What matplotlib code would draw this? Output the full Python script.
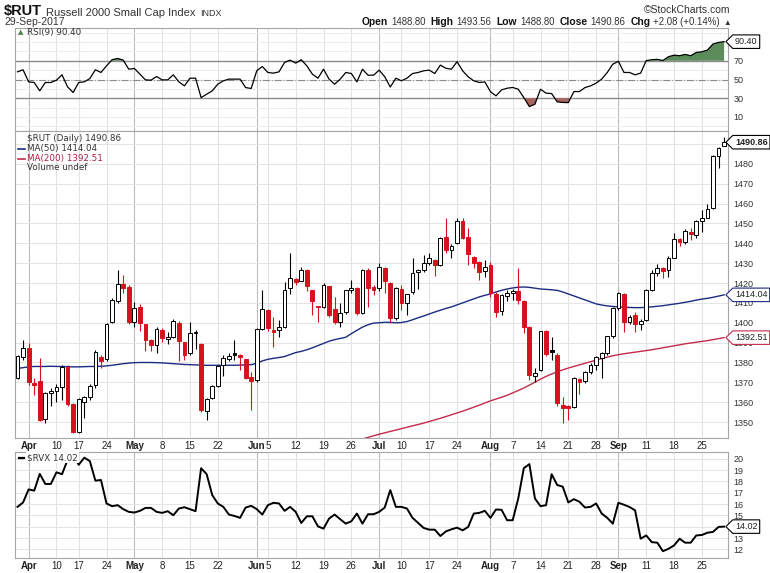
import numpy as np
import pandas as pd
import matplotlib
matplotlib.use("Agg")
import matplotlib.pyplot as plt
from matplotlib.path import Path
from matplotlib.transforms import blended_transform_factory

plt.rcParams['font.family'] = ['Liberation Sans Narrow', 'Liberation Sans', 'DejaVu Sans']

# trading days on the chart, 30-Mar-2017 .. 29-Sep-2017 (market holidays dropped)
holidays = pd.to_datetime(['2017-04-14', '2017-05-29', '2017-07-04', '2017-09-04'])
days = pd.bdate_range('2017-03-30', '2017-09-29')
days = days[~days.isin(holidays)]

# $RUT daily candles
opens = [1372.4, 1382.6, 1387.5, 1369.6, 1370.7, 1351.5, 1364.5, 1365.5, 1367.5, 1377.6,
         1359.2, 1344.8, 1360.0, 1362.8, 1368.5, 1382.6, 1381.6, 1400.2, 1410.9, 1419.7,
         1418.0, 1400.4, 1408.0, 1399.2, 1391.2, 1388.7, 1396.3, 1392.0, 1393.0, 1400.0,
         1390.5, 1384.7, 1395.0, 1389.2, 1355.4, 1362.0, 1368.0, 1378.8, 1382.0, 1384.8,
         1384.0, 1381.8, 1372.9, 1371.0, 1397.0, 1406.5, 1396.3, 1396.4, 1398.0, 1417.3,
         1422.0, 1421.0, 1426.3, 1416.5, 1408.4, 1408.0, 1418.5, 1407.0, 1400.5, 1405.6,
         1416.6, 1417.3, 1405.0, 1426.6, 1417.8, 1417.3, 1427.4, 1420.2, 1402.3, 1416.8,
         1409.8, 1415.6, 1425.7, 1426.5, 1430.0, 1431.8, 1429.0, 1443.3, 1436.6, 1440.0,
         1451.4, 1443.0, 1433.2, 1430.7, 1425.8, 1429.0, 1414.3, 1406.1, 1413.7, 1414.8,
         1416.0, 1411.1, 1398.1, 1373.0, 1376.3, 1395.6, 1386.3, 1383.8, 1358.5, 1358.0,
         1357.8, 1371.5, 1370.9, 1375.1, 1378.8, 1382.5, 1384.7, 1393.1, 1407.3, 1414.3,
         1400.6, 1403.9, 1399.2, 1401.4, 1416.5, 1424.9, 1427.4, 1426.6, 1432.8, 1441.9,
         1440.8, 1445.7, 1444.2, 1451.2, 1452.9, 1457.6, 1484.0, 1488.8]
highs = [1384.0, 1391.4, 1389.7, 1372.0, 1382.5, 1365.0, 1367.0, 1369.0, 1378.5, 1378.5,
         1359.5, 1362.0, 1363.0, 1369.0, 1386.2, 1383.8, 1400.0, 1412.5, 1426.5, 1424.0,
         1419.0, 1410.5, 1409.5, 1399.5, 1392.0, 1398.0, 1397.5, 1395.5, 1402.0, 1401.0,
         1390.5, 1400.5, 1396.4, 1390.0, 1362.0, 1368.5, 1378.5, 1383.8, 1385.0, 1391.3,
         1384.5, 1382.0, 1375.0, 1397.5, 1416.5, 1407.0, 1403.0, 1401.4, 1420.5, 1435.0,
         1422.5, 1428.0, 1427.0, 1416.5, 1408.5, 1420.0, 1418.5, 1413.0, 1410.0, 1416.5,
         1421.7, 1418.0, 1427.0, 1427.5, 1419.0, 1430.2, 1428.0, 1420.5, 1417.8, 1419.0,
         1414.5, 1432.4, 1427.0, 1434.0, 1435.3, 1432.0, 1443.0, 1452.5, 1439.5, 1452.5,
         1452.5, 1447.5, 1433.5, 1431.0, 1431.6, 1430.5, 1415.5, 1414.5, 1416.5, 1417.0,
         1427.4, 1411.5, 1398.5, 1377.0, 1396.0, 1396.3, 1393.0, 1384.7, 1362.5, 1358.5,
         1372.5, 1372.0, 1375.5, 1379.5, 1383.5, 1385.5, 1393.5, 1408.0, 1415.6, 1415.2,
         1404.0, 1405.5, 1402.0, 1416.8, 1426.5, 1429.5, 1428.0, 1433.5, 1445.0, 1442.5,
         1447.0, 1447.5, 1451.5, 1456.7, 1460.0, 1484.5, 1488.3, 1493.56]
lows = [1371.5, 1381.3, 1368.5, 1363.7, 1350.5, 1349.5, 1358.0, 1360.0, 1361.0, 1358.0,
        1344.5, 1344.5, 1352.0, 1361.0, 1367.0, 1377.0, 1381.0, 1399.8, 1410.0, 1414.8,
        1399.5, 1398.0, 1396.0, 1386.0, 1386.0, 1385.0, 1390.5, 1389.5, 1392.5, 1380.5,
        1381.5, 1383.8, 1387.0, 1355.0, 1351.2, 1361.5, 1367.5, 1373.0, 1380.5, 1381.3,
        1376.0, 1371.5, 1356.1, 1370.0, 1396.5, 1396.0, 1388.0, 1393.0, 1397.5, 1414.5,
        1419.0, 1421.0, 1416.0, 1403.9, 1400.6, 1407.5, 1403.0, 1399.5, 1398.0, 1404.5,
        1415.0, 1404.0, 1404.5, 1408.0, 1414.0, 1416.0, 1414.8, 1400.0, 1401.5, 1406.5,
        1404.0, 1414.5, 1417.0, 1425.5, 1429.0, 1423.5, 1428.5, 1435.0, 1432.4, 1439.5,
        1442.0, 1429.0, 1427.4, 1421.6, 1422.9, 1413.0, 1403.0, 1404.0, 1411.0, 1411.5,
        1409.5, 1395.0, 1371.0, 1370.4, 1375.5, 1383.5, 1381.5, 1357.9, 1349.5, 1351.0,
        1357.0, 1364.0, 1369.5, 1374.0, 1376.0, 1372.1, 1384.0, 1392.5, 1406.5, 1395.5,
        1399.5, 1395.2, 1396.5, 1401.0, 1416.0, 1423.5, 1422.5, 1423.0, 1432.4, 1438.5,
        1439.5, 1441.5, 1442.5, 1445.9, 1452.5, 1457.0, 1477.7, 1488.8]
closes = [1383.3, 1387.2, 1370.1, 1368.6, 1351.2, 1364.5, 1365.5, 1367.5, 1377.6, 1359.2,
          1344.8, 1361.5, 1362.8, 1368.3, 1385.5, 1380.8, 1399.4, 1411.5, 1419.7, 1417.5,
          1400.4, 1407.4, 1400.0, 1391.2, 1388.7, 1397.1, 1392.2, 1392.8, 1401.0, 1391.0,
          1383.8, 1395.0, 1395.5, 1356.2, 1361.6, 1368.3, 1378.3, 1382.4, 1383.5, 1383.9,
          1383.0, 1372.1, 1370.8, 1397.0, 1406.7, 1397.2, 1395.5, 1398.0, 1416.5, 1422.7,
          1420.7, 1426.3, 1418.5, 1411.0, 1408.0, 1419.0, 1404.0, 1400.2, 1405.0, 1416.5,
          1417.3, 1404.8, 1426.6, 1417.3, 1416.5, 1427.9, 1421.2, 1402.3, 1417.3, 1409.8,
          1414.3, 1425.1, 1426.6, 1429.9, 1432.4, 1429.0, 1442.4, 1436.6, 1438.8, 1451.4,
          1442.5, 1434.6, 1429.9, 1425.7, 1428.0, 1414.8, 1405.6, 1414.0, 1415.2, 1416.0,
          1411.5, 1398.1, 1373.8, 1374.9, 1395.6, 1384.5, 1385.3, 1359.5, 1357.3, 1357.0,
          1372.1, 1370.4, 1375.1, 1378.8, 1383.0, 1384.7, 1393.1, 1407.3, 1414.8, 1400.6,
          1403.1, 1399.2, 1400.9, 1416.5, 1424.9, 1427.7, 1426.2, 1432.8, 1442.1, 1440.8,
          1446.1, 1444.6, 1451.2, 1452.9, 1457.2, 1483.9, 1488.1, 1490.86]

# moving averages as drawn
ma50 = [1377.0, 1377.4, 1377.8, 1378.0, 1378.0, 1378.0, 1378.1, 1378.0, 1378.0, 1377.9,
        1377.8, 1377.8, 1377.9, 1378.0, 1378.0, 1378.1, 1378.3, 1378.6, 1379.0, 1379.4,
        1379.7, 1379.9, 1380.0, 1380.0, 1380.0, 1379.9, 1379.8, 1379.6, 1379.4, 1379.2,
        1379.0, 1378.9, 1378.8, 1378.7, 1378.6, 1378.6, 1378.6, 1378.6, 1378.6, 1378.6,
        1378.7, 1378.8, 1378.9, 1379.6, 1380.8, 1381.6, 1382.1, 1382.5, 1383.0, 1384.0,
        1385.0, 1385.6, 1386.4, 1387.4, 1388.5, 1389.6, 1390.7, 1391.5, 1392.1, 1392.7,
        1394.5, 1396.2, 1397.8, 1399.0, 1399.8, 1400.0, 1400.2, 1400.2, 1400.0, 1400.1,
        1400.6, 1401.5, 1402.5, 1403.4, 1404.4, 1405.4, 1406.3, 1407.2, 1408.0, 1409.0,
        1410.0, 1411.0, 1412.0, 1413.0, 1413.8, 1414.5, 1415.5, 1416.3, 1417.0, 1417.5,
        1417.9, 1418.0, 1417.8, 1417.4, 1417.0, 1416.8, 1416.6, 1416.3, 1415.5, 1414.5,
        1413.5, 1412.5, 1411.5, 1410.5, 1409.5, 1408.9, 1408.5, 1408.2, 1408.0, 1407.8,
        1407.7, 1407.6, 1407.6, 1407.8, 1408.0, 1408.3, 1408.6, 1409.0, 1409.4, 1409.8,
        1410.3, 1410.8, 1411.4, 1411.9, 1412.3, 1412.8, 1413.4, 1414.04]
ma200_first_day = 60   # MA(200) only shows up inside the price window from early July
ma200 = [1340.0, 1340.7, 1341.5, 1342.3, 1343.1, 1343.9, 1344.6, 1345.3, 1346.0, 1346.7,
         1347.4, 1348.1, 1348.8, 1349.5, 1350.3, 1351.1, 1351.9, 1352.8, 1353.7, 1354.6,
         1355.5, 1356.5, 1357.5, 1358.5, 1359.6, 1360.7, 1361.6, 1362.5, 1363.5, 1364.7,
         1365.9, 1367.2, 1368.6, 1370.1, 1371.6, 1373.0, 1374.2, 1375.3, 1376.3, 1377.2,
         1378.0, 1378.8, 1379.6, 1380.4, 1381.2, 1382.0, 1382.7, 1383.4, 1383.9, 1384.4,
         1384.8, 1385.2, 1385.6, 1386.0, 1386.4, 1386.9, 1387.4, 1387.9, 1388.4, 1388.9,
         1389.4, 1389.8, 1390.2, 1390.6, 1391.0, 1391.5, 1392.0, 1392.51]

rsi9 = [58.2, 60.4, 47.5, 46.8, 37.9, 46.8, 46.8, 49.3, 55.0, 42.1,
        36.1, 46.8, 47.5, 51.0, 60.4, 57.5, 64.6, 71.1, 72.5, 70.7,
        61.0, 61.8, 55.7, 49.6, 49.3, 53.2, 49.6, 49.6, 55.0, 47.5,
        43.2, 51.4, 51.4, 30.7, 34.3, 37.9, 45.0, 48.6, 50.4, 50.4,
        50.4, 41.4, 40.4, 59.3, 63.9, 57.5, 56.8, 58.2, 68.2, 70.7,
        67.5, 71.1, 64.6, 55.7, 51.4, 61.0, 50.4, 45.0, 50.4, 57.5,
        56.4, 47.5, 61.0, 54.6, 54.6, 60.0, 53.0, 42.0, 51.4, 48.6,
        51.4, 56.4, 57.5, 59.3, 60.0, 56.4, 65.4, 62.0, 61.0, 69.0,
        59.3, 52.9, 48.6, 46.8, 47.5, 37.0, 32.5, 38.9, 40.7, 41.5,
        39.6, 30.7, 21.1, 23.6, 39.6, 35.4, 35.0, 26.1, 25.5, 25.3,
        37.1, 37.1, 41.4, 43.2, 46.1, 50.4, 57.5, 66.4, 69.5, 57.5,
        57.5, 55.0, 56.8, 70.2, 71.1, 71.5, 70.3, 74.3, 76.0, 75.4,
        76.8, 75.4, 78.9, 79.6, 81.4, 87.9, 89.6, 90.4]

rvx = [15.76, 16.15, 17.30, 17.19, 18.67, 17.78, 17.78, 18.81, 18.64, 19.90,
       20.40, 19.47, 20.10, 19.80, 18.07, 18.13, 16.06, 15.82, 15.91, 15.56,
       15.32, 15.26, 15.41, 15.67, 15.67, 15.32, 15.23, 15.38, 15.02, 15.61,
       15.73, 15.56, 15.38, 19.17, 18.64, 16.80, 16.06, 15.76, 15.08, 14.96,
       14.79, 15.70, 15.85, 15.56, 15.08, 15.91, 16.12, 16.06, 15.41, 15.76,
       15.32, 14.34, 14.93, 14.93, 14.04, 13.84, 14.73, 15.08, 14.67, 14.28,
       14.49, 15.17, 14.28, 15.11, 15.11, 15.32, 15.70, 17.24, 15.76, 15.76,
       15.61, 14.79, 14.34, 13.90, 13.75, 13.75, 13.19, 13.60, 13.78, 13.93,
       13.69, 13.99, 15.17, 15.23, 15.41, 14.79, 15.53, 15.50, 14.58, 14.58,
       16.50, 19.17, 19.53, 16.50, 15.82, 15.91, 18.64, 17.69, 17.54, 16.15,
       16.44, 16.21, 15.70, 15.76, 16.06, 15.17, 14.79, 14.28, 16.12, 15.95,
       15.75, 15.45, 12.95, 13.24, 12.65, 12.60, 11.85, 12.06, 12.36, 12.95,
       12.60, 12.60, 13.24, 13.28, 13.48, 13.55, 13.99, 14.02]

rsi_ticks = [10, 30, 50, 70]
price_ticks = [1350, 1360, 1370, 1380, 1390, 1400, 1410, 1420, 1430, 1440, 1450, 1460, 1470, 1480]
rvx_ticks = [12, 13, 15, 16, 17, 18, 19, 20]      # 14 sits under the last-value tag
rvx_grid = [12, 13, 14, 15, 16, 17, 18, 19, 20]

W, H = 770, 573
fig = plt.figure(figsize=(W / 100, H / 100), dpi=100)

def fx(px):
    return px / W

def fy(py):
    return 1 - py / H

def panel(top, bottom):
    return fig.add_axes([fx(15), fy(bottom), (728 - 15) / W, (bottom - top) / H])

ax_rsi = panel(28, 131)
ax = panel(131, 438)
ax_vx = panel(452, 558)

x = np.arange(len(days))

# month lines / weekly lines (stockcharts drops a week line that crowds a month line)
month_pos = [i for i in range(1, len(days)) if days[i].month != days[i - 1].month]
week_pos = [i for i in range(1, len(days))
            if days[i].weekday() < days[i - 1].weekday()
            and not any(m - 2 <= i <= m + 1 for m in month_pos)]
ticks = sorted(month_pos + week_pos)
tick_labels = [days[i].strftime('%b') if i in month_pos else str(days[i].day) for i in ticks]

for a in (ax_rsi, ax, ax_vx):
    a.set_xlim(-0.45, len(days) - 0.3)
    for i in week_pos:
        a.axvline(i, color='#e3e3e3', lw=0.8, zorder=0)
    for i in month_pos:
        a.axvline(i, color='#bdbdbd', lw=0.8, zorder=0)
    a.yaxis.tick_right()
    a.tick_params(length=0, labelsize=6.5, pad=4, colors='#333333')
    a.set_xticks(ticks)
    a.set_xticklabels(tick_labels)
    for s in a.spines.values():
        s.set_color('#a5a5a5')
        s.set_linewidth(0.8)
ax_rsi.tick_params(labelbottom=False)
for a in (ax, ax_vx):
    a.tick_params(axis='x', pad=2, colors='#222222', labelsize=7)
    for lbl, i in zip(a.get_xticklabels(), ticks):
        if i in month_pos:
            lbl.set_fontweight('bold')

# ---- RSI panel
ax_rsi.set_ylim(-5, 105)
ax_rsi.set_yticks(rsi_ticks)
for v in range(0, 101, 10):
    ax_rsi.axhline(v, color='#ececec', lw=0.7, zorder=0)
ax_rsi.axhline(70, color='#8a8a8a', lw=1.0, zorder=1)
ax_rsi.axhline(30, color='#8a8a8a', lw=1.0, zorder=1)
ax_rsi.axhline(50, color='#8a8a8a', lw=0.8, ls='-.', zorder=1)
r = np.array(rsi9)
ax_rsi.fill_between(x, r, 70, where=r >= 70, interpolate=True, color='#5d8c5c', lw=0, zorder=2)
ax_rsi.fill_between(x, r, 30, where=r <= 30, interpolate=True, color='#a86561', lw=0, zorder=2)
ax_rsi.plot(x, r, color='black', lw=0.9, zorder=3)

# ---- price panel
ax.set_ylim(1342, 1496.5)
ax.set_yticks(price_ticks)
for v in range(1340, 1500, 10):
    ax.axhline(v, color='#e4e4e4', lw=0.7, zorder=0)
o, h, l, c = map(np.array, (opens, highs, lows, closes))
prev = np.r_[c[0], c[:-1]]
edge = np.where(c < prev, '#d5131f', '#000000')
face = np.where(c >= o, 'white', edge)
ax.plot(x, ma50, color='#1d2a82', lw=1.0, zorder=2)
ax.plot(np.arange(ma200_first_day, ma200_first_day + len(ma200)), ma200, color='#c42a4c', lw=1.0, zorder=2)
ax.vlines(x, l, h, colors=edge, lw=0.8, zorder=3)
ax.bar(x, np.maximum(np.abs(c - o), 0.3), bottom=np.minimum(o, c), width=0.68,
       color=face, edgecolor=edge, linewidth=0.7, zorder=4)

# ---- RVX panel
ax_vx.set_ylim(11.25, 20.6)
ax_vx.set_yticks(rvx_ticks)
for v in rvx_grid:
    ax_vx.axhline(v, color='#e4e4e4', lw=0.7, zorder=0)
ax_vx.plot(x, rvx, color='black', lw=1.4, zorder=3)

# ---- last-value tags on the right edge
def price_tag(x0, y0, width, height, mutation_size):
    pad = 0.25 * mutation_size
    x0, y0 = x0 - pad, y0 - pad
    x1, y1 = x0 + width + 2 * pad, y0 + height + 2 * pad
    tip = (y1 - y0) / 2
    return Path([(x0, y0), (x1, y0), (x1, y1), (x0, y1), (x0 - tip, (y0 + y1) / 2), (x0, y0)], closed=True)

def tag(a, y, s, ec='black', weight='normal'):
    a.annotate(s, xy=(1, y), xycoords=blended_transform_factory(a.transAxes, a.transData),
               xytext=(5, 0), textcoords='offset points', ha='left', va='center',
               fontsize=6.5, fontweight=weight, color='#222222', annotation_clip=False, zorder=10,
               bbox=dict(boxstyle=price_tag, fc='white', ec=ec, lw=0.8))

tag(ax_rsi, rsi9[-1], '%.2f' % rsi9[-1])
tag(ax, closes[-1], '%.2f' % closes[-1], weight='bold')
tag(ax, ma50[-1], '%.2f' % ma50[-1], ec='#1d2a82')
tag(ax, ma200[-1], '%.2f' % ma200[-1], ec='#c42a4c')
tag(ax_vx, rvx[-1], '%.2f' % rvx[-1])

# ---- legends inside the panels
leg = dict(family='DejaVu Sans', fontsize=6.3, color='#333333', va='center')
fig.text(fx(18), fy(32), '\u25b2', family='DejaVu Sans', fontsize=5, color='#4f7f4f', va='center')
fig.text(fx(27), fy(32), 'RSI(9) %.2f' % rsi9[-1], **leg)
fig.text(fx(27), fy(138.5), r'\$RUT (Daily) %.2f' % closes[-1], **leg)
fig.text(fx(27), fy(148.5), 'MA(50) %.2f' % ma50[-1], **leg)
fig.text(fx(27), fy(158.5), 'MA(200) %.2f' % ma200[-1], **dict(leg, color='#b02040'))
fig.text(fx(27), fy(167.5), 'Volume undef', **leg)
fig.add_artist(plt.Line2D([fx(18), fx(25)], [fy(148.5), fy(148.5)], color='#1d2a82', lw=1.2))
fig.add_artist(plt.Line2D([fx(18), fx(25)], [fy(158.5), fy(158.5)], color='#c42a4c', lw=1.2))
fig.text(fx(27), fy(457.5), r'\$RVX %.2f' % rvx[-1],
         bbox=dict(fc='white', ec='none', pad=1.0), **leg)
fig.add_artist(plt.Line2D([fx(19), fx(24)], [fy(457.5), fy(457.5)], color='black', lw=1.6))

# ---- header
def chain(x0, y0, parts):
    s, kw = parts[0]
    t = fig.text(fx(x0), fy(y0), s, va='baseline', **kw)
    for s, kw in parts[1:]:
        kw = dict(kw)
        gap = kw.pop('gap', 2.2)
        t = ax_rsi.annotate(s, xy=(1, 0), xycoords=t, xytext=(gap, 0), textcoords='offset points',
                            va='bottom', annotation_clip=False, **kw)
    return t

nb = dict(fontsize=7.4, fontweight='bold', color='#111111')
nn = dict(fontsize=6.9, color='#333333')
chain(4, 15, [(r'\$RUT', dict(family=['Liberation Sans', 'DejaVu Sans'], fontsize=10.5, fontweight='bold', color='#111111')),
              ('Russell 2000 Small Cap Index', dict(fontsize=8, color='#333333', gap=3)),
              ('INDX', dict(fontsize=6.5, color='#333333', gap=3))])
fig.text(fx(4), fy(25), '29-Sep-2017', fontsize=7.5, color='#333333', va='baseline')
fig.text(fx(730), fy(13), '\u00a9StockCharts.com', fontsize=7.5, color='#333333', ha='right', va='baseline')
chain(362, 25, [('Open', nb), ('1488.80', nn), ('High', dict(nb, gap=3.5)), ('1493.56', nn),
                ('Low', dict(nb, gap=3.5)), ('1488.80', nn), ('Close', dict(nb, gap=3.5)), ('1490.86', nn),
                ('Chg', dict(nb, gap=3.5)), ('+2.08 (+0.14%)', nn), ('\u25b2', dict(nn, fontsize=5.5))])

fig.savefig('out.png', dpi=100, facecolor='white')
